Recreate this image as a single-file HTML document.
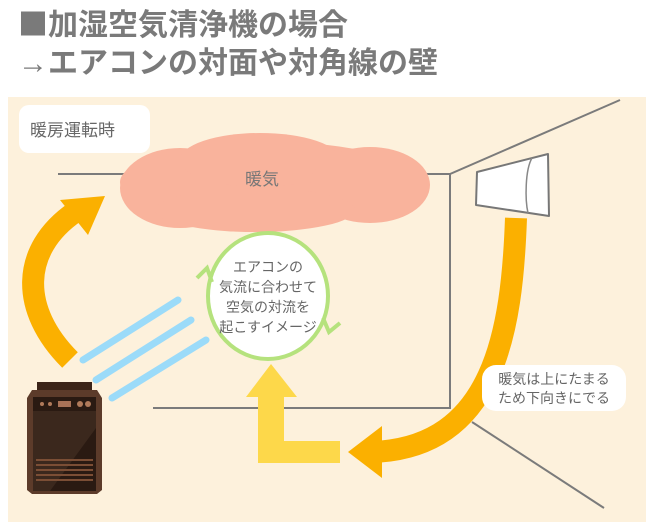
<!DOCTYPE html>
<html><head><meta charset="utf-8"><style>
html,body{margin:0;padding:0;background:#fff;}
svg{display:block;}
text{font-family:"Liberation Sans","Noto Sans CJK JP",sans-serif;}
</style></head><body>
<svg width="650" height="522" viewBox="0 0 650 522" xmlns="http://www.w3.org/2000/svg">
<rect width="650" height="522" fill="#fff"/>
<text x="18" y="35" font-size="30" font-weight="bold" fill="#7a7a7a"><tspan font-family="Noto Sans CJK JP">■</tspan>加湿空気清浄機の場合</text>
<text x="18" y="73" font-size="30" font-weight="bold" fill="#7a7a7a">→エアコンの対面や対角線の壁</text>
<rect x="8" y="97" width="638" height="425" fill="#fdf1dc"/>
<g stroke="#7b7b7b" stroke-width="2" fill="none">
<path d="M58,174 L450,174 L620,100"/>
<path d="M450,174 L450,408 L153,408"/>
<path d="M472,422 L604,508"/>
</g>
<rect x="19" y="105" width="131" height="48" rx="10" fill="#fff"/>
<text x="30" y="136" font-size="17" fill="#666">暖房運転時</text>
<g fill="#f9b39c">
<ellipse cx="270" cy="182" rx="150" ry="40"/>
<ellipse cx="180" cy="188" rx="60" ry="40"/>
<ellipse cx="260" cy="160" rx="80" ry="27"/>
<ellipse cx="370" cy="185" rx="60" ry="38"/>
<ellipse cx="255" cy="210" rx="100" ry="22"/>
</g>
<text x="245" y="185" font-size="17" fill="#777">暖気</text>
<path d="M477,172 L548,154 L549,216 L476,205 Z" fill="#fff" stroke="#777" stroke-width="2" stroke-linejoin="round"/>
<path d="M532,158 C525,170 525,200 528,213" stroke="#888" stroke-width="1.5" fill="none"/>
<path d="M516,218 C512,330 495,448 372,452" stroke="#fbb000" stroke-width="22" fill="none"/>
<path d="M348,452 L382,426 L382,478 Z" fill="#fbb000"/>
<path d="M70,360 C20,310 20,250 75,212" stroke="#fbb000" stroke-width="22" fill="none"/>
<path d="M105,196 L60,200 L88,235 Z" fill="#fbb000"/>
<g stroke="#9bdbf9" stroke-width="7" stroke-linecap="round">
<line x1="83" y1="360" x2="178" y2="300"/>
<line x1="96" y1="380" x2="191" y2="320"/>
<line x1="112" y1="398" x2="206" y2="340"/>
</g>
<ellipse cx="268" cy="296" rx="60" ry="63" fill="#fff" stroke="#b5e27d" stroke-width="4"/>
<path d="M197,278 L207,268 L212,282" stroke="#b5e27d" stroke-width="4" fill="none"/>
<path d="M323,318 L329,332 L340,323" stroke="#b5e27d" stroke-width="4" fill="none"/>
<g font-size="14" fill="#666" text-anchor="middle">
<text x="268" y="272">エアコンの</text>
<text x="268" y="292">気流に合わせて</text>
<text x="268" y="312">空気の対流を</text>
<text x="268" y="332">起こすイメージ</text>
</g>
<path d="M271,452 L271,396" stroke="#fdd84a" stroke-width="26" fill="none"/>
<path d="M258,452 L340,452" stroke="#fdd84a" stroke-width="22" fill="none"/>
<path d="M271,364 L246,397 L297,397 Z" fill="#fdd84a"/>
<rect x="482" y="365" width="144" height="46" rx="14" fill="#fff"/>
<text x="554" y="384" font-size="14" fill="#666" text-anchor="middle">暖気は上にたまる</text>
<text x="554" y="403" font-size="14" fill="#666" text-anchor="middle">ため下向きにでる</text>
<rect x="37" y="382" width="55" height="12" fill="#3b2418"/>
<path d="M32,390 L97,390 L102,398 L102,490 L97,494 L32,494 L27,490 L27,398 Z" fill="#5c3b2a"/>
<rect x="33" y="397" width="63" height="94" fill="#3b281d"/>
<rect x="33" y="397" width="63" height="14" fill="#2a1a12"/>
<path d="M96,428 L96,491 L50,491 Z" fill="#2a1a12"/>
<circle cx="42" cy="404" r="2" fill="#b07a5a"/><circle cx="50" cy="404" r="2" fill="#b07a5a"/>
<rect x="58" y="401" width="13" height="6" fill="#a97257"/>
<circle cx="80" cy="404" r="3" fill="#b07a5a"/><circle cx="88" cy="404" r="3" fill="#b07a5a"/>
<g stroke="#7b4e35" stroke-width="2">
<line x1="36" y1="460" x2="93" y2="460"/><line x1="36" y1="465" x2="93" y2="465"/>
<line x1="36" y1="470" x2="93" y2="470"/><line x1="36" y1="475" x2="93" y2="475"/>
<line x1="36" y1="480" x2="93" y2="480"/>
</g>
</svg>
</body></html>
